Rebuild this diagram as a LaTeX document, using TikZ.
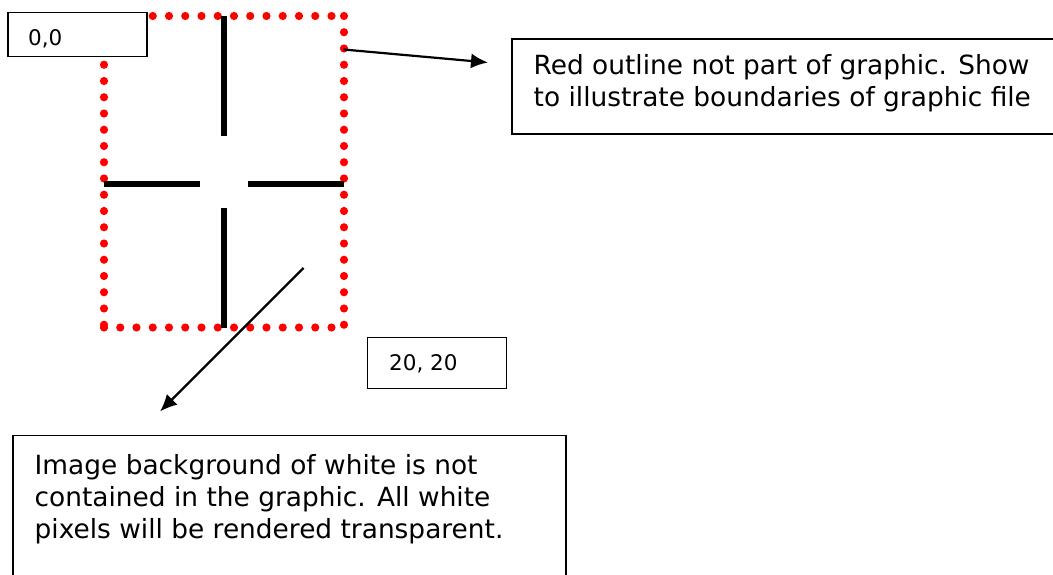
\documentclass[tikz,border=0pt]{standalone}
\usepackage{fontspec}
\setmainfont{DejaVu Sans}
\usetikzlibrary{arrows.meta}
\tikzset{
  boxframe/.style={draw=black, line width=1.8pt, fill=white, inner sep=0pt, outer sep=0pt},
  bigtext/.style={inner sep=0pt, align=left, font=\fontsize{26.4}{32}\selectfont},
  smalltext/.style={inner sep=0pt, font=\fontsize{21.5}{26}\selectfont},
  reddots/.style={draw=red, line width=8.2pt, line cap=round, dash pattern=on 0pt off 16.25pt},
  crossbar/.style={draw=black, line width=6.5pt},
  pointer/.style={draw=black, line width=2.2pt, -{Latex[length=17pt,width=15pt]}}
}
\begin{document}
\begin{tikzpicture}[x=1pt,y=-1pt]
\useasboundingbox (0,0) rectangle (1053,575);
% red outline
\coordinate (tl) at (104,16);
\coordinate (tr) at (344,16);
\coordinate (br) at (344,327.5);
\coordinate (bl) at (104,327.5);
\draw[reddots] (tl) -- (tr);
\draw[reddots] (tr) -- (br);
\draw[reddots] (bl) -- (br);
\draw[reddots] (tl) -- (bl);
% crosshair
\coordinate (vt1) at (224,16);
\coordinate (vt2) at (224,136);
\coordinate (vb1) at (224,208);
\coordinate (vb2) at (224,327.5);
\coordinate (hl1) at (104,184);
\coordinate (hl2) at (200,184);
\coordinate (hr1) at (248,184);
\coordinate (hr2) at (344,184);
\draw[crossbar] (vt1) -- (vt2);
\draw[crossbar] (vb1) -- (vb2);
\draw[crossbar] (hl1) -- (hl2);
\draw[crossbar] (hr1) -- (hr2);
% box 0,0
\node[boxframe, anchor=north west, minimum width=139pt, minimum height=44pt] (origbox) at (8,12.5) {};
\node[smalltext, anchor=base west] (origtxt) at (28,45.5) {0,0};
% box 20,20
\node[boxframe, anchor=north west, minimum width=139pt, minimum height=51pt] (endbox) at (367.5,337.5) {};
\node[smalltext, anchor=base west] (endtxt) at (389,370.5) {20, 20};
% right note box
\node[boxframe, anchor=north west, minimum width=560pt, minimum height=95pt] (notebox) at (512,39) {};
\node[bigtext, anchor=base west] (notetxt) at (533.5,107) {Red outline not part of graphic. Show\\to illustrate boundaries of graphic file};
% bottom note box
\node[boxframe, anchor=north west, minimum width=553pt, minimum height=160pt] (bgbox) at (13,435.5) {};
\node[bigtext, anchor=base west] (bgtxt) at (34.5,538) {Image background of white is not\\contained in the graphic. All white\\pixels will be rendered transparent.};
% arrows
\coordinate (a1s) at (343.5,49.5);
\coordinate (a1e) at (488,62.5);
\draw[pointer] (a1s) -- (a1e);
\coordinate (a2s) at (303.5,268);
\coordinate (a2e) at (160,411.5);
\draw[pointer] (a2s) -- (a2e);
\end{tikzpicture}
\end{document}
